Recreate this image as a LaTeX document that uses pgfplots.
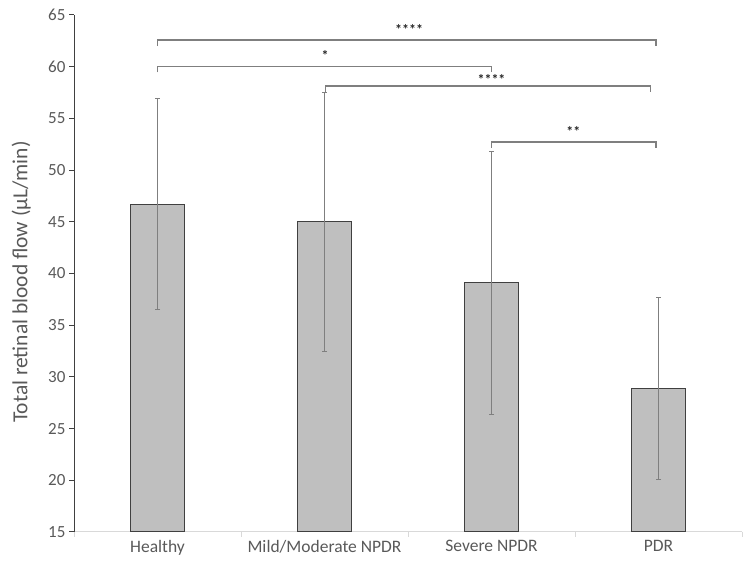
\documentclass[border=0pt]{standalone}
\usepackage{pgfplots}
\pgfplotsset{compat=1.18}
\usepackage{fontspec}
\setmainfont{Carlito}
\definecolor{txt}{HTML}{595959}
\definecolor{barfill}{HTML}{BFBFBF}
\definecolor{baredge}{HTML}{404040}
\definecolor{errc}{HTML}{7F7F7F}
\definecolor{brk}{HTML}{7F7F7F}
\definecolor{xax}{HTML}{D9D9D9}
\begin{document}
\begin{tikzpicture}[x=1bp,y=1bp]
\path[use as bounding box] (0,0) rectangle (754,566);
\begin{axis}[
  at={(74bp,34bp)}, anchor=south west,
  scale only axis, width=668bp, height=517bp,
  xmin=-0.5, xmax=3.5, ymin=15, ymax=65,
  axis x line=bottom, axis y line=left,
  x axis line style={draw=xax, line width=1bp, -},
  y axis line style={draw=baredge, line width=1bp, -},
  xtick={0,1,2,3},
  xticklabels={Healthy, Mild/Moderate NPDR, Severe NPDR, PDR},
  major x tick style={draw=none},
  minor xtick={-0.5,0.5,1.5,2.5,3.5},
  minor x tick style={draw=xax, line width=1bp},
  tick align=outside,
  major tick length=5bp, minor tick length=5bp,
  ytick={15,20,...,65},
  ytick style={draw=baredge, line width=1bp},
  xticklabel style={font=\fontsize{17.5bp}{20bp}\selectfont, text=txt},
  yticklabel style={font=\fontsize{17bp}{20bp}\selectfont, text=txt},
  /pgf/number format/assume math mode=true,
  ylabel={Total retinal blood flow (µL/min)},
  ylabel style={at={(axis description cs:-0.079,0.4836)}, anchor=center, font=\fontsize{21.5bp}{24bp}\selectfont, text=txt},
]
\addplot[ybar, bar width=0.32, fill=barfill, draw=baredge, line width=1bp,
  error bars/.cd, y dir=both, y explicit,
  error bar style={draw=errc, line width=0.8bp},
  error mark options={rotate=90, mark size=2.5bp, draw=errc, line width=0.8bp}]
  table[x=x, y=y, y error=e] {
x y e
0 46.7 10.2
1 45.0 12.5
2 39.1 12.7
3 28.9 8.8
};
\addplot[brk, line width=1.3bp] coordinates {(0,62.0) (0,62.58) (2.985,62.58) (2.985,62.0)};
\addplot[brk, line width=1.3bp] coordinates {(0,59.45) (0,60.03) (2.0,60.03) (2.0,59.45)};
\addplot[brk, line width=1.3bp] coordinates {(1.008,57.55) (1.008,58.13) (2.953,58.13) (2.953,57.55)};
\addplot[brk, line width=1.3bp] coordinates {(2.0,52.14) (2.0,52.72) (2.985,52.72) (2.985,52.14)};
\node[font=\bfseries\fontsize{14bp}{16bp}\selectfont, text=black!85, anchor=base] at (axis cs:1.507,63.1) {****};
\node[font=\bfseries\fontsize{14bp}{16bp}\selectfont, text=black!85, anchor=base] at (axis cs:1.003,60.6) {*};
\node[font=\bfseries\fontsize{14bp}{16bp}\selectfont, text=black!85, anchor=base] at (axis cs:2.0,58.25) {****};
\node[font=\bfseries\fontsize{14bp}{16bp}\selectfont, text=black!85, anchor=base] at (axis cs:2.49,53.25) {**};
\end{axis}
\end{tikzpicture}
\end{document}
